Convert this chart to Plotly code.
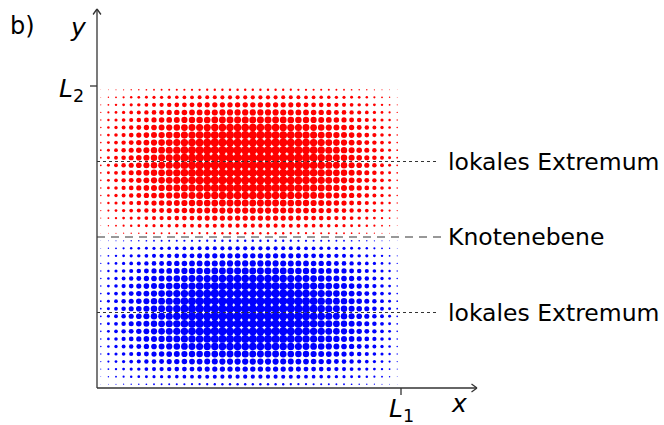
import plotly.graph_objects as go

# column amplitudes along x (40 columns, left to right)
col_amp = [0.039, 0.118, 0.195, 0.271, 0.346, 0.419, 0.489, 0.556, 0.619, 0.679,
           0.734, 0.785, 0.831, 0.872, 0.908, 0.938, 0.962, 0.981, 0.993, 0.999,
           0.999, 0.993, 0.981, 0.962, 0.938, 0.908, 0.872, 0.831, 0.785, 0.734,
           0.679, 0.619, 0.556, 0.489, 0.419, 0.346, 0.271, 0.195, 0.118, 0.039]
# row amplitudes along y (40 rows, bottom to top); negative = blue, positive = red
row_amp = [-0.078, -0.233, -0.383, -0.522, -0.649, -0.760, -0.853, -0.924, -0.972, -0.997,
           -0.997, -0.972, -0.924, -0.853, -0.760, -0.649, -0.522, -0.383, -0.233, -0.078,
           0.078, 0.233, 0.383, 0.522, 0.649, 0.760, 0.853, 0.924, 0.972, 0.997,
           0.997, 0.972, 0.924, 0.853, 0.760, 0.649, 0.522, 0.383, 0.233, 0.078]
n_x = len(col_amp)
n_y = len(row_amp)
x_pos = [(i + 0.5) / n_x for i in range(n_x)]
y_pos = [(j + 0.5) / n_y for j in range(n_y)]

extremum_y = [0.75, 0.25]
node_y = 0.5
annot_labels = ["lokales Extremum", "Knotenebene", "lokales Extremum"]

MAXD = 8.7
FONT = "DejaVu Sans"
W, H = 664, 425
# pixel mapping (page pixels)
px0, px1 = 97, 401   # x=0, x=1
py0, py1 = 388, 86   # y=0, y=1
sx = px1 - px0
sy = py0 - py1
xr = [-px0 / sx, (W - px0) / sx]
yr = [-(H - py0) / sy, py0 / sy]

def X(p):
    return (p - px0) / sx

def Y(p):
    return (py0 - p) / sy

pos = {"x": [], "y": [], "s": []}
neg = {"x": [], "y": [], "s": []}
for j, ra in enumerate(row_amp):
    for i, ca in enumerate(col_amp):
        v = ra * ca
        d = pos if v > 0 else neg
        d["x"].append(x_pos[i])
        d["y"].append(y_pos[j])
        d["s"].append(MAXD * abs(v) ** 0.5)

fig = go.Figure()
fig.add_trace(go.Scatter(x=pos["x"], y=pos["y"], mode="markers",
                         marker=dict(color="#ff0000", size=pos["s"], opacity=1,
                                     line=dict(width=0)),
                         hoverinfo="skip", showlegend=False))
fig.add_trace(go.Scatter(x=neg["x"], y=neg["y"], mode="markers",
                         marker=dict(color="#0000ff", size=neg["s"], opacity=1,
                                     line=dict(width=0)),
                         hoverinfo="skip", showlegend=False))

line_col = "#333333"
shapes = []
# guide lines
for ey in extremum_y:
    shapes.append(dict(type="line", x0=0, x1=X(439), y0=ey, y1=ey,
                       line=dict(color="#333333", width=1, dash="dot"), layer="above"))
shapes.append(dict(type="line", x0=0, x1=X(441), y0=node_y, y1=node_y,
                   line=dict(color="#333333", width=1.2, dash="8px,6px"), layer="above"))
# axes
shapes.append(dict(type="line", x0=0, x1=X(477), y0=0, y1=0,
                   line=dict(color=line_col, width=1.3)))
shapes.append(dict(type="line", x0=0, x1=0, y0=0, y1=Y(9),
                   line=dict(color=line_col, width=1.3)))
# ticks
shapes.append(dict(type="line", x0=1, x1=1, y0=0, y1=Y(395),
                   line=dict(color=line_col, width=1.3)))
shapes.append(dict(type="line", x0=X(90), x1=0, y0=1, y1=1,
                   line=dict(color=line_col, width=1.3)))

ann = []
# arrow heads
for dy in (-1, 1):
    ann.append(dict(x=X(477), y=0, ax=X(470), ay=Y(py0 + 5 * dy), xref="x", yref="y",
                    axref="x", ayref="y", showarrow=True, arrowhead=0, arrowwidth=1.3,
                    arrowcolor=line_col, text=""))
    ann.append(dict(x=0, y=Y(9), ax=X(px0 + 5 * dy), ay=Y(16), xref="x", yref="y",
                    axref="x", ayref="y", showarrow=True, arrowhead=0, arrowwidth=1.3,
                    arrowcolor=line_col, text=""))

def txt(x, y, t, size=24, anchor="left"):
    return dict(x=x, y=y, xref="x", yref="y", text=t, showarrow=False,
                xanchor=anchor, yanchor="middle",
                font=dict(family=FONT, size=size, color="black"))

ann.append(txt(X(446), extremum_y[0], annot_labels[0], size=23.5))
ann.append(txt(X(446), node_y, annot_labels[1], size=23.5))
ann.append(txt(X(446), extremum_y[1], annot_labels[2], size=23.5))
ann.append(txt(X(8), Y(26), "b)"))
ann.append(txt(X(89), Y(27), "<i>y</i>", size=25, anchor="right"))
ann.append(txt(X(86), Y(90), "<i>L</i><sub>2</sub>", size=25, anchor="right"))
ann.append(txt(X(401), Y(410), "<i>L</i><sub>1</sub>", size=25, anchor="center"))
ann.append(txt(X(459), Y(403), "<i>x</i>", size=25, anchor="center"))

fig.update_layout(
    width=W, height=H, margin=dict(l=0, r=0, t=0, b=0),
    paper_bgcolor="white", plot_bgcolor="white",
    xaxis=dict(range=xr, visible=False, fixedrange=True),
    yaxis=dict(range=yr, visible=False, fixedrange=True),
    shapes=shapes, annotations=ann,
)
fig.write_html("out.html", config={"displayModeBar": False},
               post_script="document.body.style.margin='0';document.body.style.overflow='hidden';")
